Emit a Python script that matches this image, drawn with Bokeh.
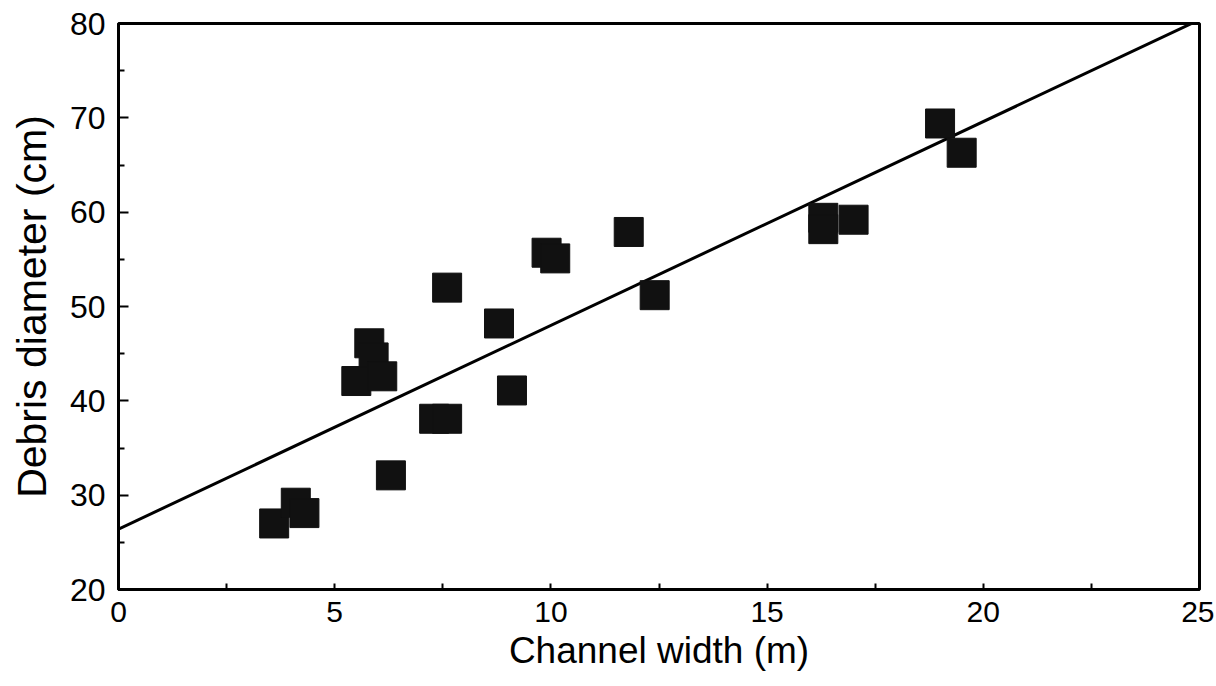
from bokeh.plotting import figure
from bokeh.models import FixedTicker, Range1d
from bokeh.embed import file_html
from bokeh.resources import INLINE

# Data
channel_width = [3.6, 4.1, 4.3, 5.8, 5.9, 5.5, 6.1, 6.3, 7.3, 7.6, 7.6, 8.8, 9.1,
                 9.9, 10.1, 11.8, 12.4, 16.3, 16.3, 17.0, 19.0, 19.5]
debris_diameter = [27.0, 29.2, 28.1, 46.1, 44.6, 42.1, 42.6, 32.1, 38.1, 38.1, 52.0, 48.2, 41.1,
                   55.7, 55.1, 57.9, 51.2, 59.4, 58.2, 59.2, 69.4, 66.3]

# Fitted regression line end points
fit_x = [0, 25]
fit_y = [26.4, 80.4]

x_ticks = [0, 5, 10, 15, 20, 25]
x_minor = [2.5, 7.5, 12.5, 17.5, 22.5]
y_ticks = [20, 30, 40, 50, 60, 70, 80]
y_minor = [25, 35, 45, 55, 65, 75]

p = figure(width=1214, height=684, output_backend="svg", toolbar_location=None,
           x_range=Range1d(0, 25), y_range=Range1d(20, 80),
           min_border_left=118, min_border_top=23, min_border_right=15, min_border_bottom=95)

p.line(fit_x, fit_y, line_color="black", line_width=3)
p.scatter(channel_width, debris_diameter, marker="square", size=29,
          fill_color="#111111", line_color="#111111")

p.grid.visible = False
p.outline_line_color = "black"
p.outline_line_width = 3
p.background_fill_color = "white"
p.border_fill_color = "white"

for ax in (p.xaxis[0], p.yaxis[0]):
    ax.axis_line_width = 3
    ax.axis_line_color = "black"
    ax.major_tick_in = 10
    ax.major_tick_out = 0
    ax.minor_tick_in = 6
    ax.minor_tick_out = 0
    ax.major_tick_line_width = 2
    ax.minor_tick_line_width = 2
    ax.major_label_text_font = "Liberation Sans"
    ax.major_label_text_color = "black"
    ax.axis_label_text_font = "Liberation Sans"
    ax.axis_label_text_font_style = "normal"
    ax.axis_label_text_color = "black"

p.xaxis[0].ticker = FixedTicker(ticks=x_ticks, minor_ticks=x_minor)
p.yaxis[0].ticker = FixedTicker(ticks=y_ticks, minor_ticks=y_minor)
p.xaxis[0].major_tick_in = 6
p.xaxis[0].major_label_text_font_size = "30px"
p.yaxis[0].major_label_text_font_size = "32px"
p.xaxis[0].axis_label_text_font_size = "37px"
p.yaxis[0].axis_label_text_font_size = "41px"
p.xaxis[0].axis_label = "Channel width (m)"
p.yaxis[0].axis_label = "Debris diameter (cm)"
p.xaxis[0].major_label_standoff = 12
p.yaxis[0].major_label_standoff = 13
p.xaxis[0].axis_label_standoff = 5
p.yaxis[0].axis_label_standoff = 12

open("out.html", "w").write(file_html(p, INLINE))
